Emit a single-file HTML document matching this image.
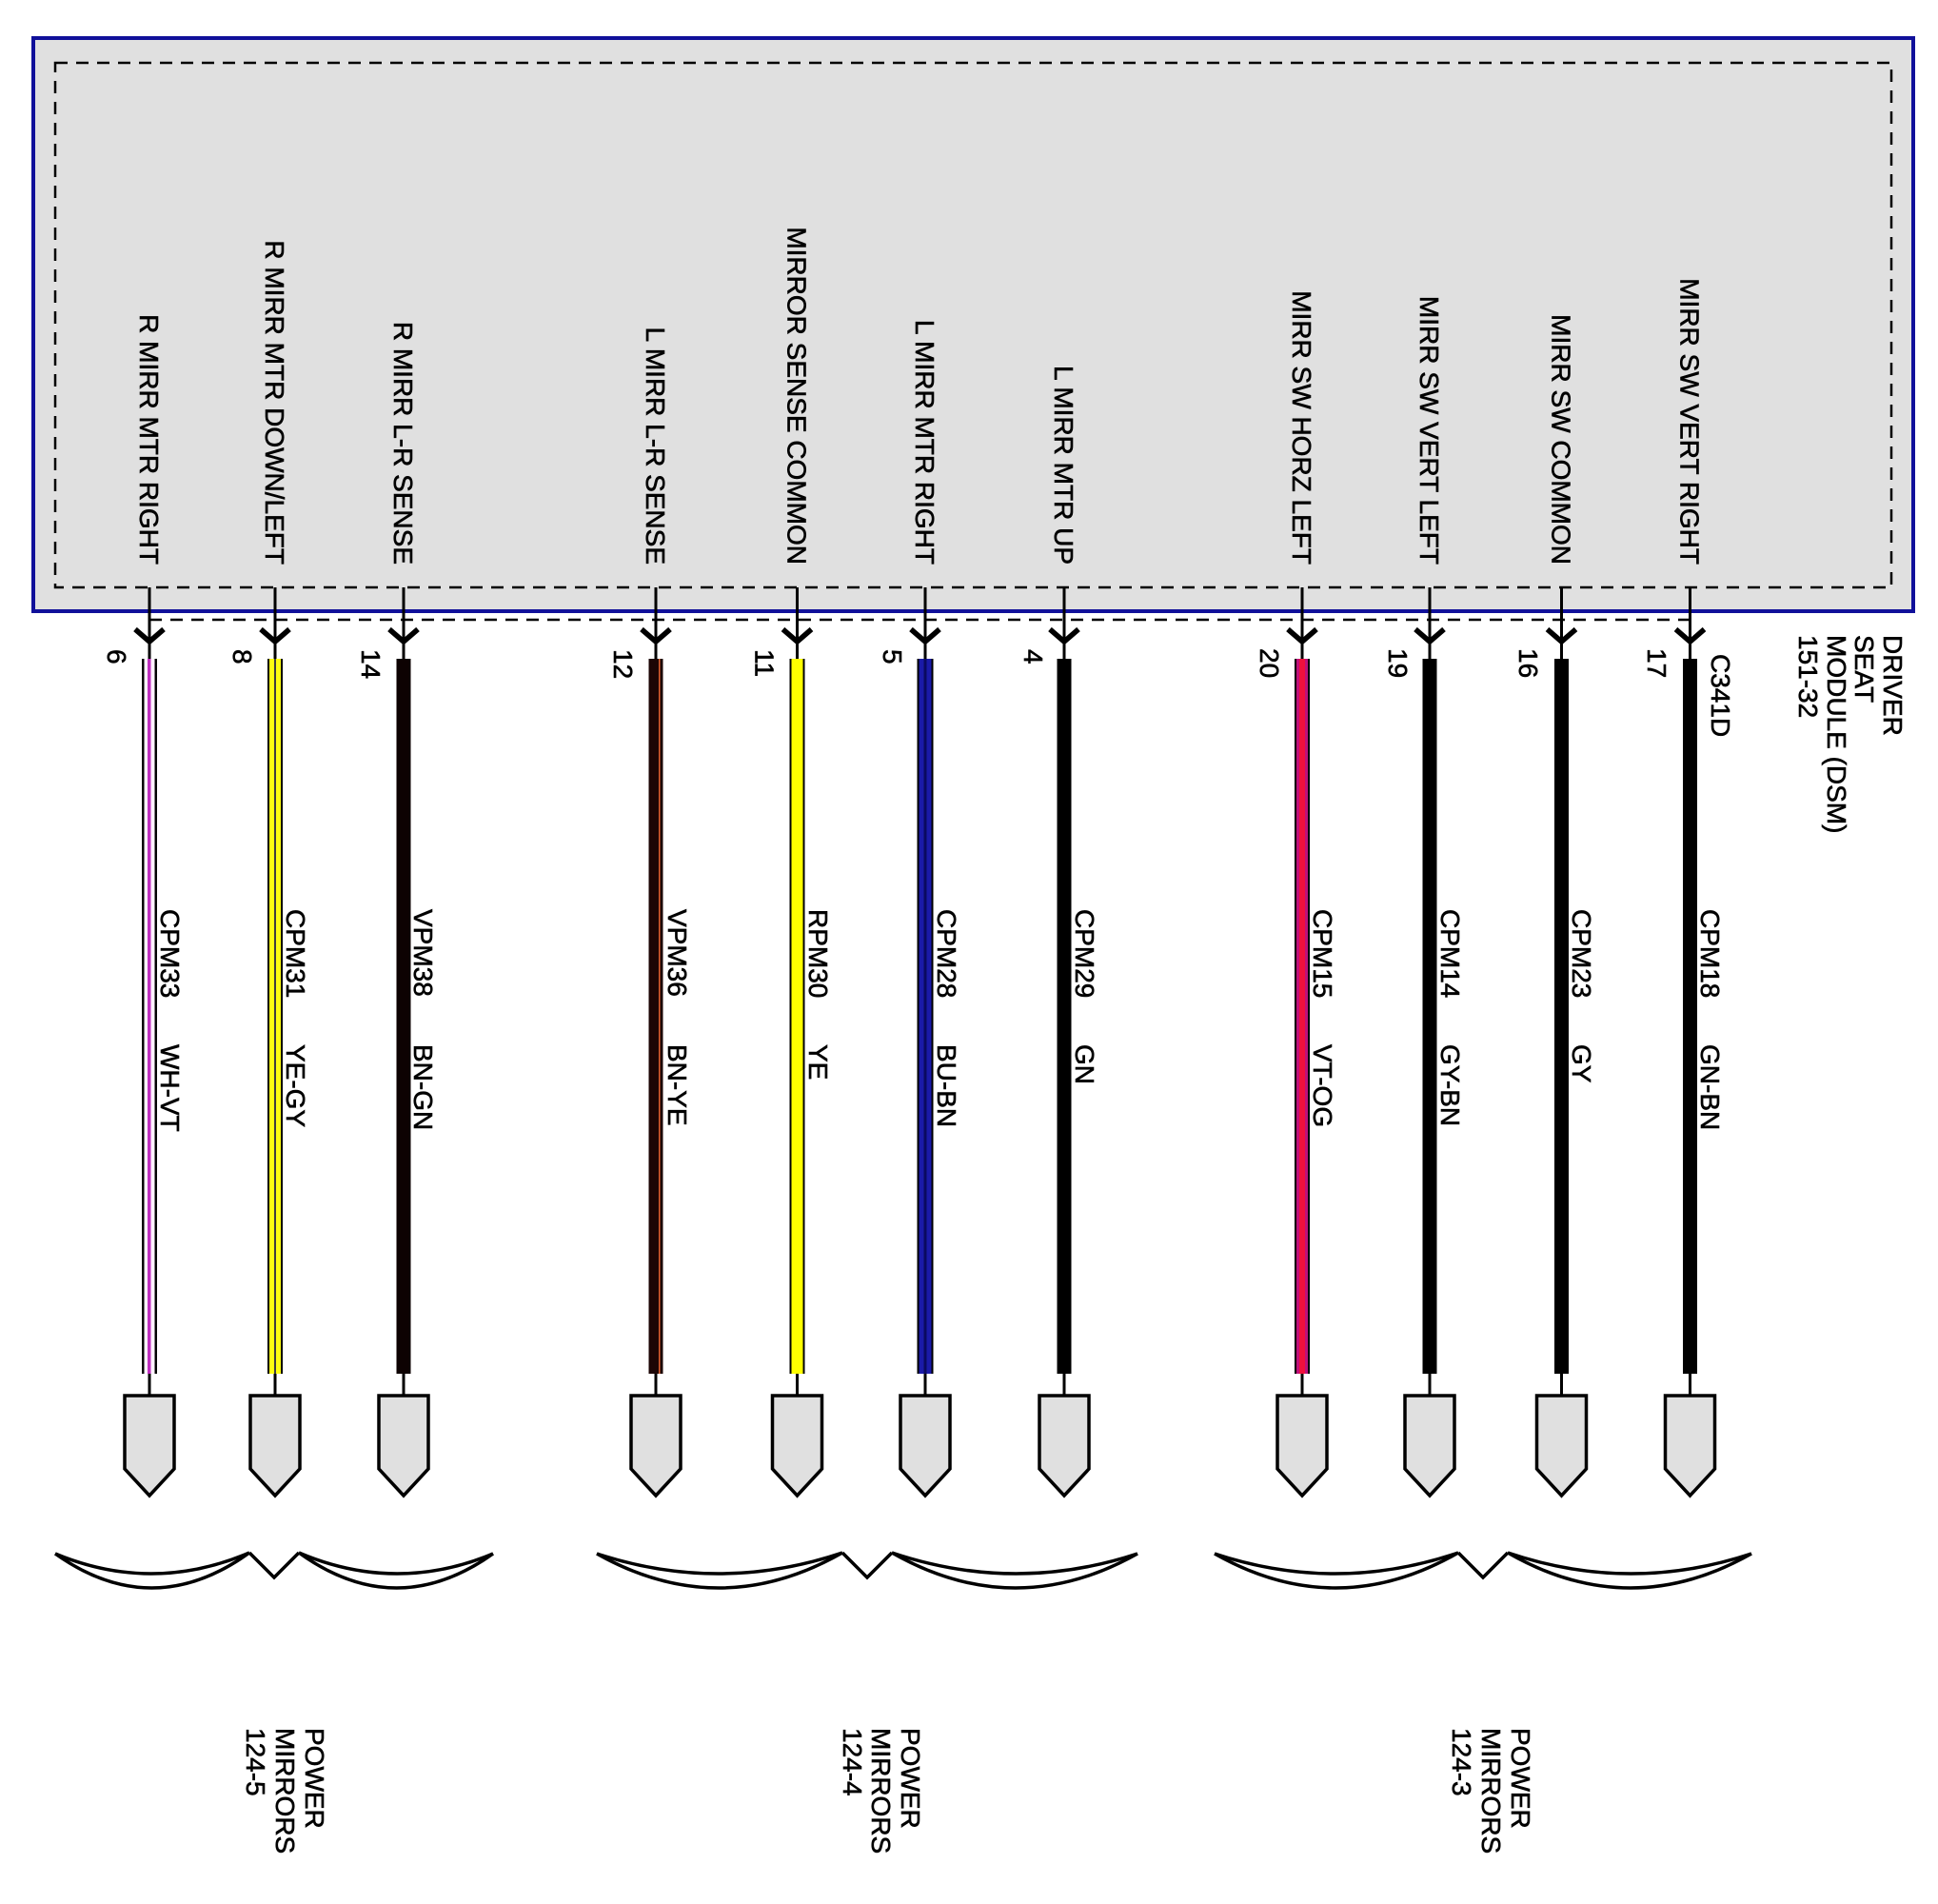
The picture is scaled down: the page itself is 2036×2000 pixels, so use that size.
<!DOCTYPE html>
<html><head><meta charset="utf-8"><style>
html,body{margin:0;padding:0;background:#fff;}
svg{display:block;}
text{font-family:"Liberation Sans",Arial,sans-serif;font-size:28px;fill:#000;stroke:#000;stroke-width:0.6px;}
</style></head><body>
<svg width="2036" height="2000" viewBox="0 0 2036 2000" xmlns="http://www.w3.org/2000/svg">
<rect x="0" y="0" width="2036" height="2000" fill="#fff"/>
<rect x="35" y="40" width="1975" height="602" fill="#e0e0e0" stroke="#10109a" stroke-width="4"/>
<rect x="58" y="66" width="1929" height="551" fill="none" stroke="#000" stroke-width="2.5" stroke-dasharray="13 9"/>
<line x1="157" y1="651" x2="1775" y2="651" stroke="#000" stroke-width="2.5" stroke-dasharray="13 9"/>

<g stroke="#000" fill="none">
<g stroke-width="3">
<line x1="157" y1="617" x2="157" y2="692"/><line x1="289" y1="617" x2="289" y2="692"/><line x1="424" y1="617" x2="424" y2="692"/><line x1="689" y1="617" x2="689" y2="692"/><line x1="837.5" y1="617" x2="837.5" y2="692"/><line x1="972" y1="617" x2="972" y2="692"/><line x1="1118" y1="617" x2="1118" y2="692"/><line x1="1368" y1="617" x2="1368" y2="692"/><line x1="1502" y1="617" x2="1502" y2="692"/><line x1="1640.5" y1="617" x2="1640.5" y2="692"/><line x1="1775.5" y1="617" x2="1775.5" y2="692"/>
<line x1="157" y1="1443" x2="157" y2="1466"/><line x1="289" y1="1443" x2="289" y2="1466"/><line x1="424" y1="1443" x2="424" y2="1466"/><line x1="689" y1="1443" x2="689" y2="1466"/><line x1="837.5" y1="1443" x2="837.5" y2="1466"/><line x1="972" y1="1443" x2="972" y2="1466"/><line x1="1118" y1="1443" x2="1118" y2="1466"/><line x1="1368" y1="1443" x2="1368" y2="1466"/><line x1="1502" y1="1443" x2="1502" y2="1466"/><line x1="1640.5" y1="1443" x2="1640.5" y2="1466"/><line x1="1775.5" y1="1443" x2="1775.5" y2="1466"/>
</g>
<g stroke-width="5.5" stroke-linejoin="miter">
<polyline points="142,661 157,674 172,661"/><polyline points="274,661 289,674 304,661"/><polyline points="409,661 424,674 439,661"/><polyline points="674,661 689,674 704,661"/><polyline points="822.5,661 837.5,674 852.5,661"/><polyline points="957,661 972,674 987,661"/><polyline points="1103,661 1118,674 1133,661"/><polyline points="1353,661 1368,674 1383,661"/><polyline points="1487,661 1502,674 1517,661"/><polyline points="1625.5,661 1640.5,674 1655.5,661"/><polyline points="1760.5,661 1775.5,674 1790.5,661"/>
</g>
<g stroke-width="3.5" fill="#e0e0e0">
<path d="M131,1466H183V1543L157,1571L131,1543Z"/>
<path d="M263,1466H315V1543L289,1571L263,1543Z"/>
<path d="M398,1466H450V1543L424,1571L398,1543Z"/>
<path d="M663,1466H715V1543L689,1571L663,1543Z"/>
<path d="M811.5,1466H863.5V1543L837.5,1571L811.5,1543Z"/>
<path d="M946,1466H998V1543L972,1571L946,1543Z"/>
<path d="M1092,1466H1144V1543L1118,1571L1092,1543Z"/>
<path d="M1342,1466H1394V1543L1368,1571L1342,1543Z"/>
<path d="M1476,1466H1528V1543L1502,1571L1476,1543Z"/>
<path d="M1614.5,1466H1666.5V1543L1640.5,1571L1614.5,1543Z"/>
<path d="M1749.5,1466H1801.5V1543L1775.5,1571L1749.5,1543Z"/>
</g>
</g>

<rect x="149" y="692" width="16" height="751" fill="#fff4ff"/>
<rect x="149" y="692" width="2.5" height="751" fill="#000"/>
<rect x="162.5" y="692" width="2.5" height="751" fill="#000"/>
<rect x="155" y="692" width="3.5" height="751" fill="#c030c0"/>
<rect x="281" y="692" width="16" height="751" fill="#000"/>
<rect x="283" y="692" width="12" height="751" fill="#ffff10"/>
<rect x="288" y="692" width="2" height="751" fill="#404040"/>
<rect x="416.5" y="692" width="15" height="751" fill="#0d0202"/>
<rect x="681.5" y="692" width="15" height="751" fill="#1c0505"/>
<rect x="692" y="692" width="1.5" height="751" fill="#e06030"/>
<rect x="829.5" y="692" width="16" height="751" fill="#000"/>
<rect x="831.5" y="692" width="12" height="751" fill="#ffff00"/>
<rect x="963.5" y="692" width="17" height="751" fill="#000"/>
<rect x="965.5" y="692" width="13" height="751" fill="#1a1aa8"/>
<rect x="970.5" y="692" width="3" height="751" fill="#0a0a60"/>
<rect x="1110.5" y="692" width="15" height="751" fill="#000"/>
<rect x="1360" y="692" width="16" height="751" fill="#000"/>
<rect x="1362" y="692" width="12" height="751" fill="#c0107a"/>
<rect x="1365" y="692" width="6" height="751" fill="#f0103c"/>
<rect x="1494.5" y="692" width="15" height="751" fill="#000"/>
<rect x="1633" y="692" width="15" height="751" fill="#000"/>
<rect x="1768" y="692" width="15" height="751" fill="#000"/>

<g text-anchor="end">
<text transform="translate(147,593) rotate(90)">R MIRR MTR RIGHT</text>
<text transform="translate(279,593) rotate(90)">R MIRR MTR DOWN/LEFT</text>
<text transform="translate(414,593) rotate(90)">R MIRR L-R SENSE</text>
<text transform="translate(679,593) rotate(90)">L MIRR L-R SENSE</text>
<text transform="translate(827.5,593) rotate(90)">MIRROR SENSE COMMON</text>
<text transform="translate(962,593) rotate(90)">L MIRR MTR RIGHT</text>
<text transform="translate(1108,593) rotate(90)">L MIRR MTR UP</text>
<text transform="translate(1358,593) rotate(90)">MIRR SW HORZ LEFT</text>
<text transform="translate(1492,593) rotate(90)">MIRR SW VERT LEFT</text>
<text transform="translate(1630.5,593) rotate(90)">MIRR SW COMMON</text>
<text transform="translate(1765.5,593) rotate(90)">MIRR SW VERT RIGHT</text>
</g>

<text transform="translate(113,682) rotate(90)">6</text>
<text transform="translate(245,682) rotate(90)">8</text>
<text transform="translate(380,682) rotate(90)">14</text>
<text transform="translate(645,682) rotate(90)">12</text>
<text transform="translate(793.5,682) rotate(90)">11</text>
<text transform="translate(928,682) rotate(90)">5</text>
<text transform="translate(1076,682) rotate(90)">4</text>
<text transform="translate(1324,681) rotate(90)">20</text>
<text transform="translate(1459,681) rotate(90)">19</text>
<text transform="translate(1596,681) rotate(90)">16</text>
<text transform="translate(1731,681) rotate(90)">17</text>

<text transform="translate(169,955) rotate(90)">CPM33</text><text transform="translate(169,1097) rotate(90)">WH-VT</text>
<text transform="translate(301,955) rotate(90)">CPM31</text><text transform="translate(301,1097) rotate(90)">YE-GY</text>
<text transform="translate(435,955) rotate(90)">VPM38</text><text transform="translate(435,1097) rotate(90)">BN-GN</text>
<text transform="translate(702,955) rotate(90)">VPM36</text><text transform="translate(702,1097) rotate(90)">BN-YE</text>
<text transform="translate(850,955) rotate(90)">RPM30</text><text transform="translate(850,1097) rotate(90)">YE</text>
<text transform="translate(985,955) rotate(90)">CPM28</text><text transform="translate(985,1097) rotate(90)">BU-BN</text>
<text transform="translate(1130,955) rotate(90)">CPM29</text><text transform="translate(1130,1097) rotate(90)">GN</text>
<text transform="translate(1380,955) rotate(90)">CPM15</text><text transform="translate(1380,1097) rotate(90)">VT-OG</text>
<text transform="translate(1514,955) rotate(90)">CPM14</text><text transform="translate(1514,1097) rotate(90)">GY-BN</text>
<text transform="translate(1652,955) rotate(90)">CPM23</text><text transform="translate(1652,1097) rotate(90)">GY</text>
<text transform="translate(1787,955) rotate(90)">CPM18</text><text transform="translate(1787,1097) rotate(90)">GN-BN</text>

<text transform="translate(1798,687) rotate(90)">C341D</text>
<text transform="translate(1979,667) rotate(90)">DRIVER</text>
<text transform="translate(1949,667) rotate(90)">SEAT</text>
<text transform="translate(1920,667) rotate(90)">MODULE (DSM)</text>
<text transform="translate(1890,667) rotate(90)">151-32</text>

<g fill="none" stroke="#000" stroke-width="3.5" stroke-linejoin="miter">
<path d="M58,1632 Q160,1674.5 262,1631"/><path d="M58,1632 Q160,1704.5 262,1631"/>
<polyline points="262,1631 288,1657 314,1631"/>
<path d="M314,1631 Q416,1674.5 518,1632"/><path d="M314,1631 Q416,1704.5 518,1632"/>
<path d="M627,1632 Q756,1674.5 885,1631"/><path d="M627,1632 Q756,1704.5 885,1631"/>
<polyline points="885,1631 911,1657 937,1631"/>
<path d="M937,1631 Q1066,1674.5 1195,1632"/><path d="M937,1631 Q1066,1704.5 1195,1632"/>
<path d="M1276,1632 Q1404,1674.5 1532,1631"/><path d="M1276,1632 Q1404,1704.5 1532,1631"/>
<polyline points="1532,1631 1558,1657 1584,1631"/>
<path d="M1584,1631 Q1712,1674.5 1840,1632"/><path d="M1584,1631 Q1712,1704.5 1840,1632"/>
</g>

<text transform="translate(321,1815) rotate(90)">POWER</text>
<text transform="translate(290,1815) rotate(90)">MIRRORS</text>
<text transform="translate(259,1815) rotate(90)">124-5</text>

<text transform="translate(947,1815) rotate(90)">POWER</text>
<text transform="translate(916,1815) rotate(90)">MIRRORS</text>
<text transform="translate(886,1815) rotate(90)">124-4</text>

<text transform="translate(1588,1815) rotate(90)">POWER</text>
<text transform="translate(1557,1815) rotate(90)">MIRRORS</text>
<text transform="translate(1526,1815) rotate(90)">124-3</text>
</svg>
</body></html>
